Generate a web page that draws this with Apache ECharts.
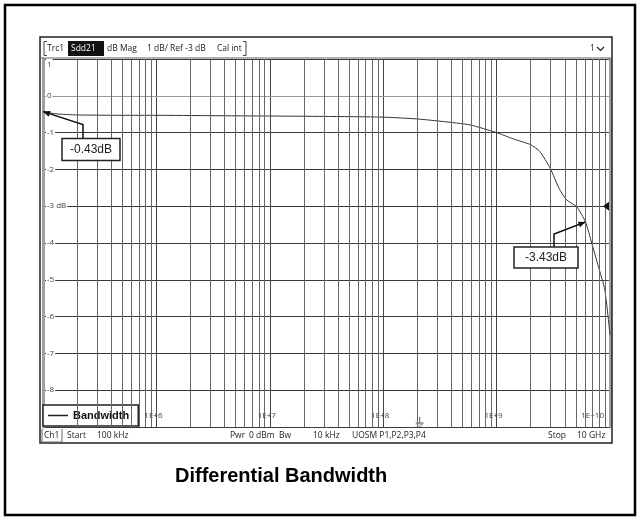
<!DOCTYPE html>
<html>
<head>
<meta charset="utf-8">
<title>Differential Bandwidth</title>
<script src="https://cdn.jsdelivr.net/npm/echarts@6/dist/echarts.min.js"></script>
<style>
html,body{margin:0;padding:0;background:#fff;}
#container{width:640px;height:520px;}
</style>
</head>
<body>
<div id="container"></div>
<script>
// Sdd21 trace: frequency (Hz) / magnitude (dB)
var freq = [1e5, 1.3e5, 2e5, 5e5, 1e6, 3e6, 1e7, 3e7, 1e8, 2e8, 3.4e8, 5.8e8, 1e9, 1.4e9, 2e9, 2.4e9, 2.96e9, 3.6e9, 4.15e9, 5.1e9, 6.08e9, 6.9e9, 7.9e9, 9e9, 1e10];
var mag = [-0.43, -0.49, -0.52, -0.53, -0.53, -0.54, -0.55, -0.56, -0.58, -0.63, -0.70, -0.79, -1.0, -1.17, -1.33, -1.51, -1.96, -2.55, -2.83, -3.02, -3.43, -4.0, -4.64, -5.27, -6.5];

// markers
var markerFreq = [1e5, 6.08e9];
var markerMag = [-0.43, -3.43];
var markerText = ['-0.43dB', '-3.43dB'];

// axes
var decades = [1e5, 1e6, 1e7, 1e8, 1e9, 1e10];
var decadeLabels = ['', '1E+6', '1E+7', '1E+8', '1E+9', '1E+10'];
var minorSteps = [2, 3, 4, 5, 6, 7, 8, 9];
var yTicks = [1, 0, -1, -2, -3, -4, -5, -6, -7, -8, -9];
var yLabels = ['1', '0', '-1', '-2', '-3 dB', '-4', '-5', '-6', '-7', '-8', ''];
var refLevel = -3;
var stimFreq = 2.1e8;

// instrument header / status bar texts
var headerItems = [['Trc1', 47], ['dB Mag', 107], ['1 dB/ Ref -3 dB', 147], ['Cal int', 217], ['1', 590]];
var statusItems = [['Ch1', 44], ['Start', 67], ['100 kHz', 97], ['Pwr', 230], ['0 dBm', 249], ['Bw', 279], ['10 kHz', 313], ['UOSM P1,P2,P3,P4', 352], ['Stop', 548], ['10 GHz', 577]];

var traceData = [];
for (var i = 0; i < freq.length; i++) {
	traceData.push([freq[i], mag[i]]);
}
var minorLines = [];
for (var d = 0; d < decades.length - 1; d++) {
	for (var s = 0; s < minorSteps.length; s++) {
		minorLines.push({xAxis: decades[d] * minorSteps[s]});
	}
}

var option = {
	animation: false,
	title: {
		text: 'Differential Bandwidth',
		left: 175,
		top: 466,
		padding: 0,
		textStyle: {fontFamily: 'Liberation Sans', fontWeight: 'bold', fontSize: 20, color: '#000'}
	},
	legend: {
		left: 43,
		top: 405,
		padding: [5, 9, 5, 5],
		itemWidth: 20,
		itemHeight: 1.5,
		itemGap: 4,
		icon: 'rect',
		backgroundColor: '#fff',
		borderColor: '#222',
		borderWidth: 1.5,
		borderRadius: 0,
		data: ['Bandwidth'],
		textStyle: {fontFamily: 'Liberation Sans', fontSize: 11, fontWeight: 'bold', color: '#111'}
	},
	grid: {left: 43, right: 30, top: 59, bottom: 93},
	xAxis: {
		type: 'log',
		logBase: 10,
		min: 1e5,
		max: 1e10,
		splitNumber: 5,
		axisLine: {show: true, lineStyle: {color: '#999', width: 1}},
		axisTick: {show: false},
		splitLine: {show: true, lineStyle: {color: '#444', width: 1}},
		axisLabel: {
			inside: true,
			margin: 7,
			fontSize: 8,
			color: '#444',
			fontFamily: 'Open Sans',
			padding: [0, 6, 0, 0],
			alignMaxLabel: 'right',
			formatter: function (v) {
				var k = Math.round(Math.log(v) / Math.LN10) - 5;
				return decadeLabels[k] || '';
			}
		}
	},
	yAxis: [{
		type: 'value',
		min: -9,
		max: 1,
		interval: 1,
		axisLine: {show: true, lineStyle: {color: '#a0a0a0', width: 3}},
		axisTick: {show: false},
		splitLine: {show: true, lineStyle: {color: '#3a3a3a', width: 1}},
		axisLabel: {
			inside: true,
			margin: 3,
			fontSize: 8,
			color: '#444',
			fontFamily: 'Open Sans',
			backgroundColor: '#fff',
			padding: [0, 1],
			formatter: function (v) {
				var k = yTicks.indexOf(v);
				if (k === 0) return '{t|' + yLabels[k] + '}';
				return k < 0 ? '' : yLabels[k];
			},
			rich: {t: {fontSize: 8, color: '#444', fontFamily: 'Open Sans', padding: [12, 0, 0, 0]}}
		}
	}, {
		type: 'value',
		position: 'right',
		min: -9,
		max: 1,
		axisLine: {show: true, lineStyle: {color: '#a0a0a0', width: 3}},
		axisTick: {show: false},
		axisLabel: {show: false},
		splitLine: {show: false}
	}],
	series: [{
		name: 'Bandwidth',
		type: 'line',
		data: traceData,
		symbol: 'none',
		showSymbol: false,
		smooth: 0.2,
		z: 3,
		lineStyle: {color: '#333', width: 1},
		itemStyle: {color: '#222'},
		markLine: {
			silent: true,
			symbol: ['none', 'none'],
			label: {show: false},
			lineStyle: {color: '#666', width: 1, type: 'solid'},
			emphasis: {disabled: true},
			data: minorLines
		}
	}]
};

var chart = echarts.init(document.getElementById('container'));
chart.setOption(option);

//------------------------------------------------------------------------
// instrument frame, header, status bar and marker call-outs
function txt(s, x, y, fill, font, align, z) {
	return {type: 'text', x: x, y: y, silent: true, z: z || 20,
		style: {text: s, fill: fill || '#1a1a1a', font: font || '8.5px "Open Sans"',
			align: align || 'left', textAlign: align || 'left', verticalAlign: 'middle', textVerticalAlign: 'middle'}};
}
function line(x1, y1, x2, y2, color, w) {
	return {type: 'line', silent: true, z: 20, shape: {x1: x1, y1: y1, x2: x2, y2: y2}, style: {stroke: color, lineWidth: w}};
}

var g = [];
// outer frame + instrument panel
g.push({type: 'rect', silent: true, z: 20, shape: {x: 5, y: 5, width: 630, height: 510}, style: {fill: null, stroke: '#000', lineWidth: 2.5}});
g.push({type: 'rect', silent: true, z: 20, shape: {x: 40, y: 37, width: 572, height: 406}, style: {fill: null, stroke: '#222', lineWidth: 1.5}});
g.push(line(40, 58, 612, 58, '#666', 1));

// header
g.push({type: 'polyline', silent: true, z: 20, shape: {points: [[47, 41.5], [44, 41.5], [44, 55.5], [47, 55.5]]}, style: {stroke: '#444', lineWidth: 1, fill: null}});
g.push({type: 'polyline', silent: true, z: 20, shape: {points: [[243, 41.5], [246, 41.5], [246, 55.5], [243, 55.5]]}, style: {stroke: '#444', lineWidth: 1, fill: null}});
g.push({type: 'rect', silent: true, z: 20, shape: {x: 68, y: 41, width: 36, height: 15}, style: {fill: '#111'}});
g.push(txt('Sdd21', 71, 48.5, '#fff', null, null, 21));
headerItems.forEach(function (h) { g.push(txt(h[0], h[1], 48.5)); });
g.push({type: 'polyline', silent: true, z: 20, shape: {points: [[597, 47], [600.5, 50.5], [604, 47]]}, style: {stroke: '#222', lineWidth: 1.2, fill: null}});

// status bar
g.push({type: 'polyline', silent: true, z: 20, shape: {points: [[42, 429], [42, 442], [62, 442], [62, 429]]}, style: {stroke: '#666', lineWidth: 1, fill: null}});
statusItems.forEach(function (h) { g.push(txt(h[0], h[1], 435.5, '#222')); });

// reference level triangle on the right edge
var rp = chart.convertToPixel({seriesIndex: 0}, [1e10, refLevel]);
g.push({type: 'polygon', silent: true, z: 20, shape: {points: [[rp[0] - 7, rp[1]], [rp[0] - 1, rp[1] - 4.5], [rp[0] - 1, rp[1] + 4.5]]}, style: {fill: '#111'}});

// stimulus marker near the bottom
var sp = chart.convertToPixel({seriesIndex: 0}, [stimFreq, -9]);
g.push(line(sp[0], sp[1] - 10, sp[0], sp[1] - 4, '#666', 1));
g.push(line(sp[0] - 4, sp[1] - 4, sp[0] + 4, sp[1] - 4, '#666', 1));
g.push({type: 'polygon', silent: true, z: 20, shape: {points: [[sp[0] - 3, sp[1] - 3], [sp[0] + 3, sp[1] - 3], [sp[0], sp[1]]]}, style: {fill: '#fff', stroke: '#777', lineWidth: 0.8}});

// marker call-outs: box offset, box size, elbow offset (relative to marker point)
var boxOff = [[19, 27], [-71.5, 25]];
var boxSize = [[58, 22], [64, 21]];
var elbow = [[40, 13], [-31.5, 12]];
for (var m = 0; m < markerFreq.length; m++) {
	var p = chart.convertToPixel({seriesIndex: 0}, [markerFreq[m], markerMag[m]]);
	var bx = p[0] + boxOff[m][0], by = p[1] + boxOff[m][1];
	var ex = p[0] + elbow[m][0], ey = p[1] + elbow[m][1];
	g.push({type: 'polyline', silent: true, z: 20, shape: {points: [[ex, by], [ex, ey], [p[0], p[1]]]}, style: {stroke: '#111', lineWidth: 1.5, fill: null}});
	// arrow head
	var dx = p[0] - ex, dy = p[1] - ey, len = Math.sqrt(dx * dx + dy * dy);
	var ux = dx / len, uy = dy / len;
	g.push({type: 'polygon', silent: true, z: 21, shape: {points: [
		[p[0], p[1]],
		[p[0] - ux * 7 - uy * 3, p[1] - uy * 7 + ux * 3],
		[p[0] - ux * 7 + uy * 3, p[1] - uy * 7 - ux * 3]
	]}, style: {fill: '#111'}});
	g.push({type: 'rect', silent: true, z: 21, shape: {x: bx, y: by, width: boxSize[m][0], height: boxSize[m][1]}, style: {fill: '#fff', stroke: '#222', lineWidth: 1.5}});
	g.push(txt(markerText[m], bx + boxSize[m][0] / 2, by + boxSize[m][1] / 2 + 0.5, '#222', '12px "Liberation Sans"', 'center', 22));
}

chart.setOption({graphic: {elements: g}});
</script>
</body>
</html>
